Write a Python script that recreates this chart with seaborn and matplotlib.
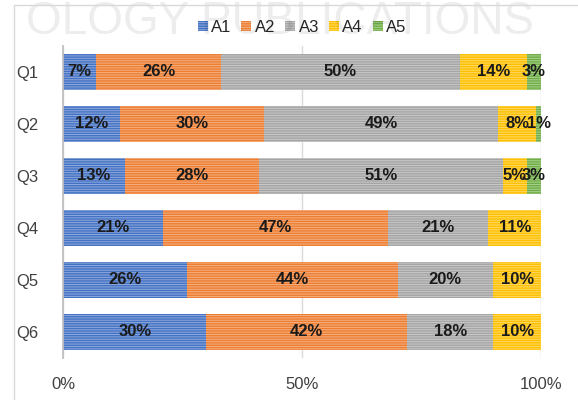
import numpy as np
import pandas as pd
import matplotlib.pyplot as plt
import seaborn as sns

sns.set_theme(style="white")
plt.rcParams['font.family'] = ['Liberation Sans', 'DejaVu Sans']

# du lieu doc tu hinh
questions = ['Q1', 'Q2', 'Q3', 'Q4', 'Q5', 'Q6']
answers = ['A1', 'A2', 'A3', 'A4', 'A5']
a1 = [7, 12, 13, 21, 26, 30]
a2 = [26, 30, 28, 47, 44, 42]
a3 = [50, 49, 51, 21, 20, 18]
a4 = [14, 8, 5, 11, 10, 10]
a5 = [3, 1, 3, 0, 0, 0]
x_ticks = [0, 50, 100]
x_tick_labels = ['0%', '50%', '100%']

colors = ['#4472C4', '#ED7D31', '#A5A5A5', '#FFC000', '#70AD47']
hatch_colors = ['#8FAADC', '#F4B183', '#C9C9C9', '#FFD966', '#A9D18E']

df = pd.DataFrame({'Q': questions, 'A1': a1, 'A2': a2, 'A3': a3, 'A4': a4, 'A5': a5})
vals = df[answers].values
cum = vals.cumsum(axis=1)

plt.rcParams['hatch.linewidth'] = 0.7
fig = plt.figure(figsize=(5.78, 4.0), dpi=100)
ax = fig.add_axes([0.109, 0.105, 0.827, 0.78])

# watermark mo (nam duoi cac thanh phan khac)
fig.text(0.485, 0.945, 'OLOGY PUBLICATIONS', ha='center', va='center', fontsize=33,
		 color='#000000', alpha=0.07, zorder=0)

# ve cac lop cong don, lop lon nhat truoc
for i in range(len(answers) - 1, -1, -1):
	sns.barplot(x=cum[:, i], y=questions, orient='h', color=colors[i], ax=ax,
				width=0.68, edgecolor=hatch_colors[i], linewidth=0, hatch='-------',
				saturation=1, label=answers[i])

# nhan phan tram
for r in range(len(questions)):
	for i in range(len(answers)):
		v = vals[r, i]
		if v == 0:
			continue
		left = cum[r, i] - v
		ax.text(left + v / 2, r, f'{v}%', ha='center', va='center',
				fontsize=12, fontweight='bold', color='#1a1a1a')

ax.set_xlim(0, 100)
ax.set_ylim(5.5, -0.5)
ax.set_xticks(x_ticks)
ax.set_xticklabels(x_tick_labels, fontsize=12, color='#404040')
ax.tick_params(axis='y', labelsize=12, labelcolor='#404040', pad=18, length=0)
ax.tick_params(axis='x', pad=14, length=0)
ax.set_xlabel('')
ax.set_ylabel('')
ax.xaxis.grid(True, color='#D9D9D9', linewidth=1)
ax.set_axisbelow(True)
for s in ['top', 'right', 'bottom']:
	ax.spines[s].set_visible(False)
ax.spines['left'].set_color('#BFBFBF')

handles, labels = ax.get_legend_handles_labels()
order = [labels.index(a) for a in answers]
ax.legend([handles[k] for k in order], answers, loc='center', bbox_to_anchor=(0.5, 1.06),
		  ncol=5, frameon=False, fontsize=12, handlelength=0.6, handleheight=0.6,
		  handletextpad=0.2, columnspacing=0.6, borderaxespad=0)

fig.patches.append(plt.Rectangle((0.024, -0.1), 1.1, 1.087, transform=fig.transFigure,
								 fill=False, edgecolor='#D9D9D9', linewidth=1))

fig.savefig('out.png', dpi=100)
